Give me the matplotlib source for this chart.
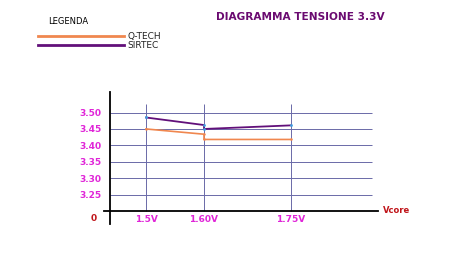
import matplotlib
matplotlib.use('Agg')
from matplotlib import pyplot as plt

# data
vcore = [1.5, 1.6, 1.6, 1.75]
qtech = [3.450, 3.434, 3.418, 3.418]
sirtec = [3.485, 3.462, 3.450, 3.461]
x_ticks = [1.5, 1.6, 1.75]
x_labels = ['1.5V', '1.60V', '1.75V']
y_ticks = [3.25, 3.30, 3.35, 3.40, 3.45, 3.50]
y_labels = ['3.25', '3.30', '3.35', '3.40', '3.45', '3.50']

ORANGE = '#f0874f'
PURPLE = '#62107a'
GRID = '#6a6aa8'
MAGENTA = '#e025d8'
RED = '#c0151a'

fig = plt.figure(figsize=(4.64, 2.67), dpi=100)
W, H = 464, 267
ax = fig.add_axes([100 / W, 1 - 225 / H, 280 / W, 137 / H])
ax.set_xlim(1.4207, 1.9034)
ax.set_ylim(3.157, 3.575)

x0, y0 = 1.438, 3.20

# grid
ax.hlines(y_ticks, x0, 1.889, colors=GRID, linewidth=0.7, zorder=1)
ax.vlines(x_ticks, y0, 3.525, colors=GRID, linewidth=0.7, zorder=1)

ax.plot(vcore, qtech, color=ORANGE, linewidth=1.2, label='Q-TECH', zorder=3,
        marker='o', markersize=1.8, markerfacecolor=ORANGE, markeredgewidth=0)
ax.plot(vcore, sirtec, color=PURPLE, linewidth=1.3, label='SIRTEC', zorder=3,
        marker='o', markersize=2, markerfacecolor='#40a0e0', markeredgewidth=0)

for s in ['top', 'right']:
    ax.spines[s].set_visible(False)
ax.spines['left'].set_position(('data', x0))
ax.spines['bottom'].set_position(('data', y0))
ax.spines['left'].set_bounds(3.16, 3.564)
ax.spines['bottom'].set_bounds(1.428, 1.90)
ax.spines['left'].set_linewidth(1.3)
ax.spines['bottom'].set_linewidth(1.3)

ax.set_yticks(y_ticks, y_labels)
ax.set_xticks(x_ticks, x_labels)
ax.tick_params(length=0, labelsize=6.5, labelcolor=MAGENTA)
ax.tick_params(axis='y', pad=6)
ax.tick_params(axis='x', pad=3)
for t in ax.get_xticklabels() + ax.get_yticklabels():
    t.set_fontweight('bold')

ax.text(1.415, y0 - 0.008, '0', color=RED, fontsize=6.5, fontweight='bold',
        ha='right', va='top')
ax.text(1.908, y0, 'Vcore', color=RED, fontsize=6, fontweight='bold',
        ha='left', va='center', clip_on=False)

fig.text(216 / W, 1 - 17 / H, 'DIAGRAMMA TENSIONE 3.3V', color='#6a0a70',
         fontsize=7.6, fontweight='bold', ha='left', va='center')
fig.text(48 / W, 1 - 22 / H, 'LEGENDA', color='black', fontsize=6,
         ha='left', va='center')
leg = fig.legend(loc='upper left', bbox_to_anchor=(38 / W, 1 - 32 / H),
                 frameon=False, fontsize=6.5, handlelength=9.5,
                 handletextpad=0.4, labelspacing=0.05, borderpad=0,
                 borderaxespad=0)
for h in leg.legend_handles:
    h.set_marker('')
    h.set_linewidth(2)
for t in leg.get_texts():
    t.set_color('#222222')

fig.savefig('out.png', dpi=100)
